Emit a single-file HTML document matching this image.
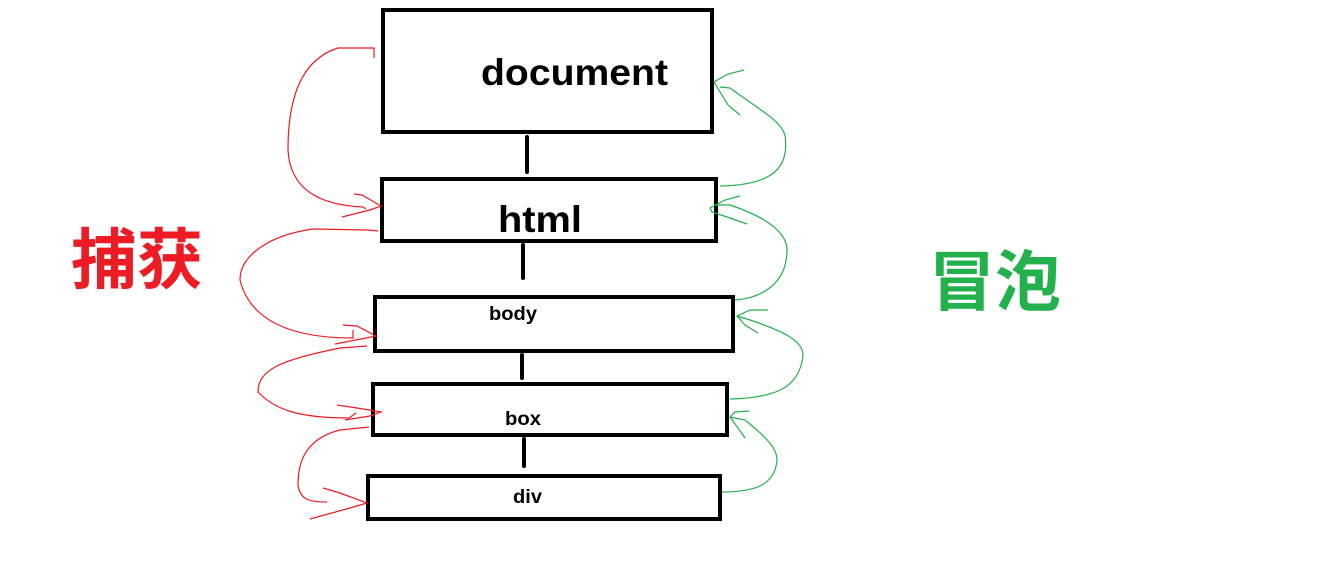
<!DOCTYPE html>
<html><head><meta charset="utf-8"><style>
html,body{margin:0;padding:0;background:#fff;}
svg{display:block;}
</style></head><body>
<svg width="1327" height="587" viewBox="0 0 1327 587" xmlns="http://www.w3.org/2000/svg">
<g fill="none" stroke="#000" stroke-width="4">
<rect x="383" y="10" width="329" height="122"/>
<rect x="382" y="179" width="334" height="62"/>
<rect x="375" y="297" width="358" height="54"/>
<rect x="373" y="384" width="354" height="51"/>
<rect x="368" y="476" width="352" height="43"/>
<line x1="527" y1="137" x2="527" y2="172" stroke-linecap="round"/>
<line x1="523" y1="245" x2="523" y2="278" stroke-linecap="round"/>
<line x1="522" y1="355" x2="522" y2="378" stroke-linecap="round"/>
<line x1="524" y1="439" x2="524" y2="466" stroke-linecap="round"/>
</g>
<g font-family="Liberation Sans, sans-serif" font-weight="bold" fill="#000">
<text x="481" y="85" font-size="37" textLength="187" lengthAdjust="spacingAndGlyphs">document</text>
<text x="498" y="232" font-size="37" textLength="84" lengthAdjust="spacingAndGlyphs">html</text>
<text x="489" y="320" font-size="19" textLength="48" lengthAdjust="spacingAndGlyphs">body</text>
<text x="505" y="425" font-size="19" textLength="36" lengthAdjust="spacingAndGlyphs">box</text>
<text x="513" y="503" font-size="19" textLength="29" lengthAdjust="spacingAndGlyphs">div</text>
</g>
<g fill="none" stroke="#ed1c24" stroke-width="1.2">
<path d="M374,58 L374,48 L338,48 C300,60 288,100 288,150 C290,190 320,205 363,207 L366,209"/>
<path d="M354,194 L362,195 L381,206 L370,210 L342,217"/>
<path d="M378,231 L368,230 L313,229 C270,235 240,255 240,280 C250,320 290,338 353,338 L353,330"/>
<path d="M343,325 L357,326 L376,336 L366,338 L335,344"/>
<path d="M367,346 L340,348 C280,360 258,370 258,392 C275,410 300,418 349,418 L356,413"/>
<path d="M337,405 L357,408 L381,412 L370,416 L345,420"/>
<path d="M369,427 L340,430 C300,440 298,470 298,485 C300,500 310,502 327,502"/>
<path d="M323,488 L340,493 L367,503 L350,508 L310,519"/>
</g>
<g fill="none" stroke="#22b14c" stroke-width="1.2">
<path d="M744,70 L728,74 L714,82 L728,105 L740,115"/>
<path d="M720,87 L730,88 C760,110 780,120 785,135 C790,170 770,185 720,186"/>
<path d="M740,196 L725,200 L710,208 L712,212 L730,218 L747,224"/>
<path d="M715,205 L730,205 C760,215 787,230 787,250 C787,285 760,298 735,300"/>
<path d="M768,310 L750,310 L737,316 L745,325 L758,333"/>
<path d="M737,316 L750,320 C780,330 803,340 803,355 C800,385 780,398 730,399"/>
<path d="M749,411 L735,412 L730,417 L738,428 L745,438"/>
<path d="M730,417 L745,420 C770,440 777,450 777,460 C775,485 755,492 722,492"/>
</g>
<g font-family="Liberation Sans, 'Noto Sans CJK SC', sans-serif" font-weight="bold" font-size="66">
<text x="71" y="283" fill="#ed1c24">捕获</text>
<text x="929" y="305" fill="#22b14c">冒泡</text>
</g>
</svg>
</body></html>
